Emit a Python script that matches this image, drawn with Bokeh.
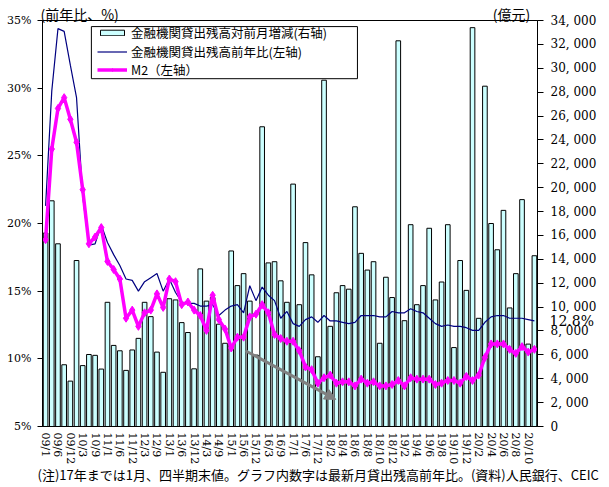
from bokeh.plotting import figure
from bokeh.models import (Range1d, LinearAxis, FixedTicker, Legend, LegendItem,
                          Arrow, NormalHead, Title, BoxAnnotation)
from bokeh.embed import file_html
from bokeh.resources import INLINE

categories = [
    "09/1", "09/3", "09/6", "09/9", "09/12",
    "10/1", "10/3", "10/6", "10/9", "10/12",
    "11/1", "11/3", "11/6", "11/9", "11/12",
    "12/1", "12/3", "12/6", "12/9", "12/12",
    "13/1", "13/3", "13/6", "13/9", "13/12",
    "14/1", "14/3", "14/6", "14/9", "14/12",
    "15/1", "15/3", "15/6", "15/9", "15/12",
    "16/1", "16/3", "16/6", "16/9", "16/12",
    "17/1", "17/3", "17/6", "17/9", "17/12",
    "18/1", "18/2", "18/3", "18/4", "18/5", "18/6",
    "18/7", "18/8", "18/9", "18/10", "18/11", "18/12",
    "19/1", "19/2", "19/3", "19/4", "19/5", "19/6",
    "19/7", "19/8", "19/9", "19/10", "19/11", "19/12",
    "20/1", "20/2", "20/3", "20/4", "20/5", "20/6",
    "20/7", "20/8", "20/9", "20/10", "20/11",
]

# 金融機関貸出残高対前月増減 (億元, right axis)
loan_increase = [
    16200, 18900, 15300, 5170, 3800,
    13900, 5100, 6030, 5960, 4810,
    10400, 6790, 6340, 4700, 6410,
    7380, 10400, 9200, 6230, 4540,
    10700, 10600, 8700, 7870, 4830,
    13200, 10500, 10800, 8570, 6970,
    14700, 11800, 12800, 10500, 5980,
    25100, 13700, 13800, 12200, 10400,
    20300, 10200, 15400, 12700, 5840,
    29000, 8390, 11200, 11800, 11500, 18400,
    14500, 13100, 13800, 6970, 12500, 10800,
    32300, 8860, 16900, 10200, 11800, 16600,
    10600, 12100, 16900, 6610, 13900, 11400,
    33400, 9060, 28500, 17000, 14800, 18100,
    9930, 12800, 19000, 6900, 14300,
]

# 金融機関貸出残高前年比 (%, left axis)
loan_yoy = [
    21.3, 29.8, 34.4, 34.2, 31.7,
    29.3, 22.0, 18.4, 18.5, 19.9,
    18.6, 17.7, 16.9, 15.9, 15.8,
    15.0, 15.7, 16.0, 16.3, 15.0,
    15.9, 14.9, 14.2, 14.1, 14.1,
    13.9, 13.9, 14.0, 13.2, 13.6,
    13.9, 14.0, 13.4, 15.4, 14.3,
    15.3, 14.7, 14.3, 13.0, 13.5,
    12.6, 12.4, 12.9, 13.1, 12.7,
    13.2, 12.8, 12.8, 12.7, 12.6, 12.7,
    13.2, 13.2, 13.2, 13.1, 13.1, 13.5,
    13.4, 13.4, 13.7, 13.5, 13.4, 13.0,
    12.6, 12.4, 12.5, 12.4, 12.4, 12.3,
    12.1, 12.1, 12.7, 13.1, 13.2, 13.2,
    13.0, 13.0, 13.0, 12.9, 12.8,
]

# M2 前年比 (%, left axis)
m2_yoy = [
    18.8, 25.5, 28.5, 29.3, 27.7,
    26.0, 22.5, 18.5, 19.0, 19.7,
    17.2, 16.6, 15.9, 13.0, 13.6,
    12.4, 13.4, 13.6, 14.8, 13.8,
    15.9, 15.7, 14.0, 14.2, 13.6,
    13.2, 12.1, 14.7, 12.9, 12.2,
    10.8, 11.6, 11.6, 13.1, 13.3,
    14.0, 13.4, 11.8, 11.5, 11.3,
    11.3, 10.6, 9.4, 9.2, 8.2,
    8.6, 8.8, 8.2, 8.3, 8.3, 8.0,
    8.5, 8.2, 8.3, 8.0, 8.0, 8.1,
    8.4, 8.0, 8.6, 8.5, 8.5, 8.5,
    8.1, 8.2, 8.4, 8.4, 8.2, 8.7,
    8.4, 8.8, 10.1, 11.1, 11.1, 11.1,
    10.7, 10.4, 10.9, 10.5, 10.7,
]

left_ticks = [5, 10, 15, 20, 25, 30, 35]
right_ticks = [0, 2000, 4000, 6000, 8000, 10000, 12000, 14000, 16000, 18000,
               20000, 22000, 24000, 26000, 28000, 30000, 32000, 34000]

legend_labels = ["金融機関貸出残高対前月増減(右轴)", "金融機関貸出残高前年比(左轴)", "M2（左轴）"]
unit_labels = ["(前年比、%)", "(億元)"]
unit_label_pos = [5.5, 75.3]          # where the unit captions sit along the top edge
note_text = "(注)17年までは1月、四半期末値。グラフ内数字は最新月貸出残高前年比。(資料)人民銀行、CEIC"

# legend layout (frame box in data units, rows in screen px from the frame bottom)
legend_box = dict(left=7.4, right=50.4, bottom=30.7, top=34.55)
legend_row_y = [384, 365.5, 347]
legend_x = 55

x = list(range(len(categories)))

p = figure(frame_width=495, frame_height=406,
           x_range=Range1d(-0.5, len(categories) - 0.5),
           y_range=Range1d(left_ticks[0], left_ticks[-1]),
           output_backend="svg", toolbar_location=None,
           min_border_left=42, min_border_right=66, min_border_top=15, min_border_bottom=60,
           background_fill_color="white", border_fill_color="white")
p.extra_y_ranges = {"right": Range1d(right_ticks[0], right_ticks[-1])}
p.xgrid.visible = False
p.ygrid.visible = False
p.outline_line_color = "black"
p.outline_line_width = 1

SERIF = "DejaVu Serif"
CJK = "Noto Sans CJK JP"

# x axis
xa = p.xaxis[0]
xa.ticker = FixedTicker(ticks=x[::2])
xa.major_label_overrides = {i: categories[i] for i in x[::2]}
xa.major_label_orientation = "vertical"
xa.major_tick_line_color = None
xa.major_tick_in = 0
xa.major_tick_out = 0
xa.minor_tick_line_color = None
xa.major_label_text_font = SERIF
xa.major_label_text_font_size = "11px"
xa.major_label_text_color = "black"
xa.major_label_standoff = 6
xa.axis_line_color = "black"

# top captions (unit labels) as a bare axis above the frame
ta = LinearAxis(ticker=FixedTicker(ticks=unit_label_pos))
ta.major_label_overrides = dict(zip(unit_label_pos, unit_labels))
ta.axis_line_color = None
ta.major_tick_line_color = None
ta.major_tick_in = 0
ta.major_tick_out = 0
ta.minor_tick_line_color = None
ta.major_label_standoff = -3
ta.major_label_text_font = CJK
ta.major_label_text_font_size = "14px"
ta.major_label_text_color = "black"
p.add_layout(ta, "above")

# left axis
ya = p.yaxis[0]
ya.ticker = FixedTicker(ticks=left_ticks)
ya.major_label_overrides = {v: f"{v}%" for v in left_ticks}
ya.major_tick_in = 0
ya.major_tick_out = 5
ya.minor_tick_line_color = None
ya.major_label_text_font = SERIF
ya.major_label_text_font_size = "11px"
ya.major_label_text_color = "black"
ya.major_label_standoff = 6
ya.axis_line_color = "black"

# right axis
ra = LinearAxis(y_range_name="right", ticker=FixedTicker(ticks=right_ticks))
ra.major_label_overrides = {v: f"{v:,}".replace(",", ", ") for v in right_ticks}
ra.major_tick_in = 0
ra.major_tick_out = 6
ra.minor_tick_line_color = None
ra.major_label_text_font = SERIF
ra.major_label_text_font_size = "12px"
ra.major_label_text_color = "black"
ra.major_label_standoff = 7
ra.axis_line_color = "black"
p.add_layout(ra, "right")

# latest loan growth value, shown beside the right axis
la = LinearAxis(ticker=FixedTicker(ticks=[loan_yoy[-1]]))
la.major_label_overrides = {loan_yoy[-1]: f"{loan_yoy[-1]}%"}
la.axis_line_color = None
la.major_tick_line_color = None
la.major_tick_in = 0
la.major_tick_out = 0
la.minor_tick_line_color = None
la.major_label_standoff = -50
la.major_label_text_font = SERIF
la.major_label_text_font_size = "14px"
la.major_label_text_color = "black"
p.add_layout(la, "right")

r_bar = p.vbar(x=x, top=loan_increase, bottom=0, width=0.75, y_range_name="right",
               fill_color="#CCFFFF", line_color="black", line_width=1)
r_blue = p.line(x, loan_yoy, line_color="#000080", line_width=1.2)
r_m2 = p.line(x, m2_yoy, line_color="#FF00FF", line_width=3.5)
r_m2p = p.scatter(x, m2_yoy, marker="diamond", size=8,
                  fill_color="#FF00FF", line_color="#FF00FF")

# trend arrow
p.add_layout(Arrow(end=NormalHead(size=11, fill_color="#808080", line_color="#808080"),
                   x_start=32.3, y_start=10.6, x_end=46.9, y_end=7.0,
                   line_color="#808080", line_width=3))

# legend: a white framed box, then one row per series
p.add_layout(BoxAnnotation(fill_color="white", fill_alpha=1, line_color="black",
                           line_alpha=1, line_width=1, level="annotation", **legend_box))
legend_renderers = [[r_bar], [r_blue], [r_m2, r_m2p]]
for label, rends, ry in zip(legend_labels, legend_renderers, legend_row_y):
    lg = Legend(items=[LegendItem(label=label, renderers=rends)], location=(legend_x, ry))
    lg.label_text_font = CJK
    lg.label_text_font_size = "12.5px"
    lg.label_text_color = "black"
    lg.label_height = 12
    lg.label_standoff = 4
    lg.glyph_width = 30
    lg.glyph_height = 7
    lg.spacing = 0
    lg.padding = 0
    lg.margin = 0
    lg.border_line_color = None
    lg.background_fill_alpha = 0
    p.add_layout(lg)

p.add_layout(Title(text=note_text, align="left", text_font=CJK,
                   text_font_size="13px", text_font_style="normal",
                   text_color="black", standoff=-9, offset=-5), "below")

open("out.html", "w").write(file_html(p, INLINE))
